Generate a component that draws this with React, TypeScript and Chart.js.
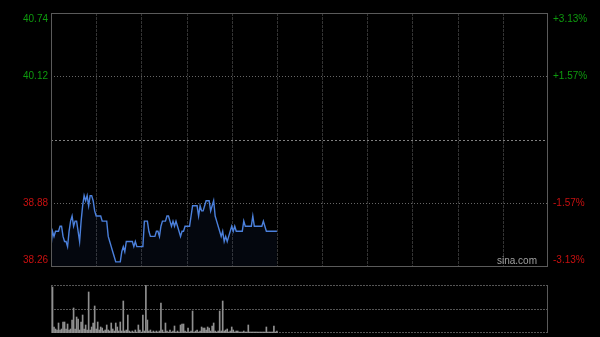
import React, { useEffect, useRef } from 'react';
import { Chart, registerables } from 'chart.js';
Chart.register(...registerables);

const PREV_CLOSE = 39.5;
const PRICE_TICKS = [40.74, 40.12, 39.5, 38.88, 38.26];
const LEFT_LABELS = ['40.74', '40.12', '', '38.88', '38.26'];
const RIGHT_LABELS = ['+3.13%', '+1.57%', '', '-1.57%', '-3.13%'];
const LABEL_COLORS = ['#0e9a0e', '#0e9a0e', '', '#c81010', '#c81010'];
const SESSION_MINUTES = 330;
const TIME_GRID = [30, 60, 90, 120, 150, 180, 210, 240, 270, 300];
const VOLUME_MAX = 48;
const VOLUME_GRID = [0, 24, 48];

const PRICES = [
  38.45, 38.6, 38.55, 38.6, 38.6, 38.6, 38.65, 38.65, 38.55, 38.5,
  38.5, 38.45, 38.6, 38.7, 38.75, 38.65, 38.7, 38.7, 38.6, 38.5,
  38.7, 38.85, 38.95, 38.9, 38.95, 38.85, 38.95, 38.95, 38.9, 38.8,
  38.75, 38.75, 38.75, 38.75, 38.7, 38.7, 38.7, 38.7, 38.55, 38.5,
  38.45, 38.4, 38.35, 38.3, 38.3, 38.3, 38.3, 38.4, 38.45, 38.4,
  38.5, 38.5, 38.5, 38.5, 38.5, 38.45, 38.5, 38.45, 38.45, 38.45,
  38.45, 38.45, 38.7, 38.7, 38.7, 38.6, 38.55, 38.55, 38.55, 38.55,
  38.6, 38.6, 38.55, 38.65, 38.7, 38.7, 38.7, 38.75, 38.75, 38.7,
  38.65, 38.7, 38.65, 38.7, 38.65, 38.6, 38.55, 38.6, 38.6, 38.65,
  38.65, 38.65, 38.65, 38.75, 38.85, 38.85, 38.85, 38.85, 38.75, 38.85,
  38.8, 38.8, 38.85, 38.9, 38.9, 38.9, 38.8, 38.85, 38.9, 38.75,
  38.7, 38.65, 38.6, 38.55, 38.6, 38.5, 38.55, 38.5, 38.55, 38.6,
  38.65, 38.6, 38.65, 38.6, 38.6, 38.6, 38.6, 38.6, 38.7, 38.65,
  38.65, 38.65, 38.65, 38.65, 38.75, 38.65, 38.65, 38.65, 38.65, 38.65,
  38.65, 38.7, 38.65, 38.6, 38.6, 38.6, 38.6, 38.6, 38.6, 38.6,
  38.6,
];

const VOLUMES = [
  35, 46, 6, 4, 3, 10, 3, 4, 11, 11,
  4, 9, 3, 4, 13, 25, 4, 16, 14, 3,
  11, 18, 4, 8, 3, 41, 3, 6, 10, 27,
  4, 11, 3, 6, 5, 2, 3, 8, 3, 2,
  10, 4, 2, 10, 6, 2, 11, 2, 32, 2,
  3, 18, 2, 1, 2, 1, 3, 1, 8, 3,
  1, 18, 2, 48, 13, 2, 3, 1, 2, 1,
  2, 1, 2, 30, 3, 1, 10, 2, 1, 3,
  1, 2, 7, 1, 2, 1, 8, 9, 9, 2,
  1, 5, 1, 2, 22, 1, 2, 3, 1, 2,
  6, 5, 5, 3, 6, 5, 2, 7, 10, 2,
  1, 2, 22, 2, 32, 2, 3, 4, 1, 2,
  6, 3, 1, 2, 2, 1, 1, 1, 2, 1,
  1, 8, 1, 1, 1, 1, 1, 1, 1, 1,
  1, 1, 1, 6, 1, 1, 1, 1, 7, 1,
  2,
];

const FONT = '10px "Liberation Sans", Arial, sans-serif';

function hline(ctx: CanvasRenderingContext2D, x1: number, x2: number, y: number, color: string, dash: number[]) {
  ctx.save();
  ctx.strokeStyle = color;
  ctx.lineWidth = 1;
  ctx.setLineDash(dash);
  ctx.beginPath();
  const yy = Math.round(y) + 0.5;
  ctx.moveTo(x1, yy);
  ctx.lineTo(x2, yy);
  ctx.stroke();
  ctx.restore();
}

function vline(ctx: CanvasRenderingContext2D, x: number, y1: number, y2: number, color: string, dash: number[]) {
  ctx.save();
  ctx.strokeStyle = color;
  ctx.lineWidth = 1;
  ctx.setLineDash(dash);
  ctx.beginPath();
  const xx = Math.round(x) + 0.5;
  ctx.moveTo(xx, y1);
  ctx.lineTo(xx, y2);
  ctx.stroke();
  ctx.restore();
}

const priceGridPlugin = {
  id: 'priceGrid',
  beforeDatasetsDraw(chart: any) {
    const { ctx, chartArea: a, scales } = chart;
    const x = scales.x;
    const y = scales.y;
    TIME_GRID.forEach((t) => vline(ctx, x.getPixelForValue(t), a.top, a.bottom, '#333333', [3, 1]));
    PRICE_TICKS.forEach((p, i) => {
      if (i === 0 || i === PRICE_TICKS.length - 1) return;
      if (p === PREV_CLOSE) hline(ctx, a.left, a.right, y.getPixelForValue(p), '#808080', [2, 2]);
      else hline(ctx, a.left, a.right, y.getPixelForValue(p), '#666666', [1, 2]);
    });
  },
  afterDraw(chart: any) {
    const { ctx, chartArea: a, scales } = chart;
    const y = scales.y;
    ctx.save();
    ctx.strokeStyle = '#5a5a5a';
    ctx.lineWidth = 1;
    ctx.strokeRect(Math.round(a.left) + 0.5, Math.round(a.top) + 0.5, Math.round(a.right - a.left) - 1, Math.round(a.bottom - a.top));
    ctx.font = FONT;
    ctx.textBaseline = 'middle';
    PRICE_TICKS.forEach((p, i) => {
      if (!LEFT_LABELS[i]) return;
      let py = y.getPixelForValue(p);
      if (i === 0) py += 6;
      if (i === PRICE_TICKS.length - 1) py -= 6;
      ctx.fillStyle = LABEL_COLORS[i];
      ctx.textAlign = 'right';
      ctx.fillText(LEFT_LABELS[i], a.left - 3, py);
      ctx.textAlign = 'left';
      ctx.fillText(RIGHT_LABELS[i], a.right + 5, py);
    });
    ctx.fillStyle = '#a0a0a0';
    ctx.textAlign = 'right';
    ctx.fillText('sina.com', a.right - 11, a.bottom - 5);
    ctx.restore();
  },
};

const volumeGridPlugin = {
  id: 'volumeGrid',
  beforeDatasetsDraw(chart: any) {
    const { ctx, chartArea: a, scales } = chart;
    const y = scales.y;
    VOLUME_GRID.forEach((v) => hline(ctx, a.left, a.right, y.getPixelForValue(v) - (v === 0 ? 1 : 0), '#555555', [2, 1]));
  },
  afterDraw(chart: any) {
    const { ctx, chartArea: a } = chart;
    vline(ctx, a.left, a.top, a.bottom, '#5a5a5a', []);
    vline(ctx, a.right - 1, a.top, a.bottom, '#5a5a5a', []);
  },
};

export default function App() {
  const priceRef = useRef<HTMLCanvasElement>(null);
  const volRef = useRef<HTMLCanvasElement>(null);

  useEffect(() => {
    const priceChart = new Chart(priceRef.current!, {
      type: 'line',
      data: {
        datasets: [
          {
            data: PRICES.map((p, i) => ({ x: i, y: p })),
            borderColor: '#4b80dc',
            borderWidth: 1.4,
            pointRadius: 0,
            tension: 0,
            fill: 'start',
            backgroundColor: 'rgba(40,70,140,0.1)',
          },
        ],
      },
      options: {
        responsive: false,
        animation: false,
        layout: { padding: { left: 51, right: 52, top: 13, bottom: 71 } },
        plugins: { legend: { display: false }, tooltip: { enabled: false } },
        events: [],
        scales: {
          x: { type: 'linear', min: 0, max: SESSION_MINUTES, display: false },
          y: { min: PRICE_TICKS[PRICE_TICKS.length - 1], max: PRICE_TICKS[0], display: false },
        },
      },
      plugins: [priceGridPlugin],
    });

    const volChart = new Chart(volRef.current!, {
      type: 'bar',
      data: {
        datasets: [
          {
            data: VOLUMES.map((v, i) => ({ x: i, y: v })),
            backgroundColor: '#909090',
            barThickness: 1,
            borderWidth: 0,
          },
        ],
      },
      options: {
        responsive: false,
        animation: false,
        layout: { padding: { left: 51, right: 52, top: 285, bottom: 4 } },
        plugins: { legend: { display: false }, tooltip: { enabled: false } },
        events: [],
        scales: {
          x: { type: 'linear', min: 0, max: SESSION_MINUTES, display: false, offset: false },
          y: { min: 0, max: VOLUME_MAX, display: false },
        },
      },
      plugins: [volumeGridPlugin],
    });

    return () => {
      priceChart.destroy();
      volChart.destroy();
    };
  }, []);

  return (
    <div style={{ position: 'fixed', left: 0, top: 0, width: 600, height: 337, background: '#000' }}>
      <canvas ref={priceRef} width={600} height={337} style={{ position: 'absolute', left: 0, top: 0 }} />
      <canvas ref={volRef} width={600} height={337} style={{ position: 'absolute', left: 0, top: 0 }} />
    </div>
  );
}
